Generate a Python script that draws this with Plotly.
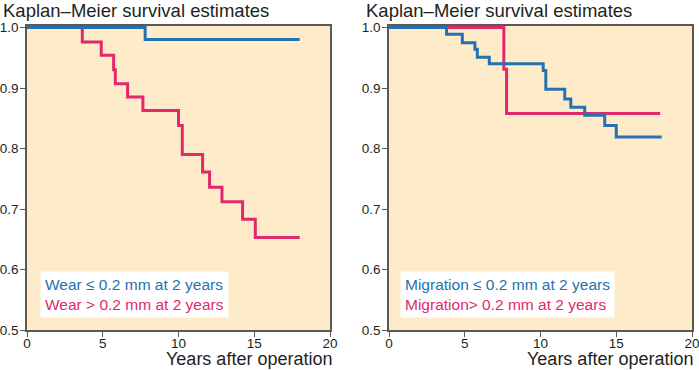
import plotly.graph_objects as go

# ---- data ----
wear_low_t = [0, 7.8, 18]
wear_low_s = [1.0, 0.980, 0.980]
wear_high_t = [0, 3.65, 4.9, 5.72, 5.83, 6.64, 7.65, 10.0, 10.25, 11.59, 12.05, 12.87, 14.23, 15.07, 18]
wear_high_s = [1.0, 0.976, 0.954, 0.930, 0.907, 0.885, 0.863, 0.838, 0.790, 0.761, 0.736, 0.712, 0.683, 0.653, 0.653]

mig_low_t = [0, 3.8, 4.84, 5.67, 5.83, 6.62, 10.18, 10.35, 11.6, 12.0, 12.92, 14.24, 15.0, 18]
mig_low_s = [1.0, 0.989, 0.975, 0.964, 0.951, 0.940, 0.929, 0.898, 0.882, 0.868, 0.855, 0.838, 0.819, 0.819]
mig_high_t = [0, 7.58, 7.76, 17.9]
mig_high_s = [1.0, 0.931, 0.858, 0.858]

x_ticks = [0, 5, 10, 15, 20]
y_ticks = [0.5, 0.6, 0.7, 0.8, 0.9, 1.0]
y_tick_text = ["0.5", "0.6", "0.7", "0.8", "0.9", "1.0"]

title_text = "Kaplan–Meier survival estimates"
x_title = "Years after operation"
legend_left = ["Wear ≤ 0.2 mm at 2 years", "Wear &gt; 0.2 mm at 2 years"]
legend_right = ["Migration ≤ 0.2 mm at 2 years", "Migration&gt; 0.2 mm at 2 years"]

# ---- styling ----
BLUE = "#2472B1"
PINK = "#E2286C"
BG = "#FDEBC9"
AX = "#5E5852"
TXT = "#231F20"
FONT = "Liberation Sans, Arial, sans-serif"

W, H = 699, 370
ML, MR, MT, MB = 27, 7, 25.5, 40
pw = W - ML - MR
ph = H - MT - MB


def px(x):
    return (x - ML) / pw


def py(y):
    return 1 - (y - MT) / ph


fig = go.Figure()

# left panel
fig.add_trace(go.Scatter(x=wear_high_t, y=wear_high_s, mode="lines", line=dict(color=PINK, width=3, shape="hv"),
                         xaxis="x", yaxis="y", showlegend=False))
fig.add_trace(go.Scatter(x=wear_low_t, y=wear_low_s, mode="lines", line=dict(color=BLUE, width=3, shape="hv"),
                         xaxis="x", yaxis="y", showlegend=False))
# right panel
fig.add_trace(go.Scatter(x=mig_high_t, y=mig_high_s, mode="lines", line=dict(color=PINK, width=3, shape="hv"),
                         xaxis="x2", yaxis="y2", showlegend=False))
fig.add_trace(go.Scatter(x=mig_low_t, y=mig_low_s, mode="lines", line=dict(color=BLUE, width=3, shape="hv"),
                         xaxis="x2", yaxis="y2", showlegend=False))

ax_common = dict(showline=True, mirror=True, linecolor=AX, linewidth=1.5, ticks="outside", ticklen=5,
                 tickwidth=1, tickcolor=AX, showgrid=False, zeroline=False, automargin=False,
                 ticklabeloverflow="allow",
                 tickfont=dict(family=FONT, size=13.5, color=TXT))

dom_left = [0, px(330)]
dom_right = [px(389), 1]

fig.update_layout(
    width=W, height=H,
    margin=dict(l=ML, r=MR, t=MT, b=MB),
    paper_bgcolor="white",
    plot_bgcolor=BG,
    xaxis=dict(domain=dom_left, range=[0, 20], tickvals=x_ticks, anchor="y", ticklabelstandoff=-5, **ax_common),
    yaxis=dict(domain=[0, 1], range=[0.5, 1.0025], tickvals=y_ticks, ticktext=y_tick_text, anchor="x",
               ticklabelstandoff=-1, **ax_common),
    xaxis2=dict(domain=dom_right, range=[0, 20], tickvals=x_ticks, anchor="y2", ticklabelstandoff=-5, **ax_common),
    yaxis2=dict(domain=[0, 1], range=[0.5, 1.0025], tickvals=y_ticks, ticktext=y_tick_text, anchor="x2",
                ticklabelstandoff=-1, **ax_common),
)

annotations = []
for xl in (1, 364):
    annotations.append(dict(text=title_text, xref="paper", yref="paper", x=px(xl), y=py(-3),
                            xanchor="left", yanchor="top", showarrow=False,
                            font=dict(family=FONT, size=18.5, color=TXT)))
for xr in (334, 695):
    annotations.append(dict(text=x_title, xref="paper", yref="paper", x=px(xr), y=py(371),
                            xanchor="right", yanchor="bottom", showarrow=False,
                            font=dict(family=FONT, size=18, color=TXT)))

for xl, labels in ((40, legend_left), (400, legend_right)):
    txt = (f"<span style='color:{BLUE}'>{labels[0]}</span><br>"
           f"<span style='color:{PINK}'>{labels[1]}</span>")
    annotations.append(dict(text=txt, xref="paper", yref="paper", x=px(xl), y=py(271),
                            xanchor="left", yanchor="top", showarrow=False, align="left",
                            bgcolor="white", borderpad=4,
                            font=dict(family=FONT, size=15.5, color=TXT)))

fig.update_layout(annotations=annotations)

fig.write_html("out.html", config={"displayModeBar": False})

# remove the default page margin so the figure sits at the window's top-left corner
with open("out.html", encoding="utf-8") as f:
    html = f.read()
html = html.replace("<body>", "<body style=\"margin:0;padding:0;overflow:hidden\">", 1)
with open("out.html", "w", encoding="utf-8") as f:
    f.write(html)
